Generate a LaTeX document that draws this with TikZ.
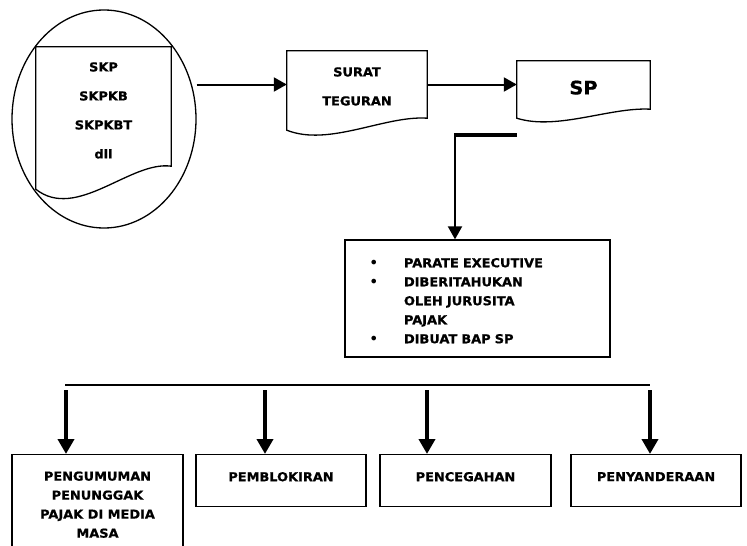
\documentclass[tikz,border=0pt]{standalone}
\usepackage{fontspec}
\setmainfont{DejaVu Sans}
\newfontfamily\heavyfont{DejaVu Sans Bold}[FakeStretch=1.05,FakeBold=0.8]
\usetikzlibrary{arrows.meta,calc,positioning,shapes.geometric}
\tikzset{
  outline/.style={draw=black,line width=1.3pt},
  flow/.style={-{Triangle[length=13pt,width=14pt]},line width=2pt},
  heavyflow/.style={-{Triangle[length=15pt,width=16pt]},line width=4.5pt},
  doc/.style={inner sep=0pt,align=center,font=\heavyfont\fontsize{12.3}{29}\selectfont},
  box/.style={outline,inner sep=2pt,align=center,font=\heavyfont\fontsize{12.3}{19}\selectfont},
  shortbox/.style={box,minimum width=170pt,minimum height=52pt,text depth=8pt,anchor=north},
}
% document symbol with a wavy lower edge
\newcommand{\docoutline}[2]{%
  \draw[outline] (#1.north west) -- (#1.north east) -- (#1.south east)
    .. controls ($(#1.south east)!0.3!(#1.south west)+(0,-#2/4)$)
       and ($(#1.south east)!0.7!(#1.south west)+(0,2.4*#2)$)
    .. ($(#1.south west)+(0,#2)$) -- cycle;}
\newcommand{\infobullet}{\makebox[35pt][l]{\raisebox{-1.5pt}{\normalfont\fontsize{16}{16}\selectfont\textbullet}}}

\begin{document}
\begin{tikzpicture}[x=1pt,y=-1pt]
  \useasboundingbox (0,0) rectangle (747,546);

  % top row
  \node[ellipse,outline,minimum width=184pt,minimum height=218pt,inner sep=0pt] (ell) at (104,119) {};
  \node[doc,minimum width=135pt,minimum height=119pt] (skp) at (103.5,106.5)
    {\rule{0pt}{17pt}SKP\\SKPKB\\SKPKBT\\dll};
  \docoutline{skp}{23}
  \node[doc,minimum width=140pt,minimum height=67pt] (teguran) at (357,84.5)
    {\rule{0pt}{13pt}SURAT\\TEGURAN};
  \docoutline{teguran}{12}
  \node[doc,minimum width=133pt,minimum height=48pt,text height=19pt,
        font=\heavyfont\fontsize{18.5}{22}\selectfont] (sp) at (583.5,85) {SP};
  \docoutline{sp}{9}

  \draw[flow] (ell.east |- teguran.west) -- (teguran.west);
  \draw[flow] (teguran.east) -- (teguran.east -| sp.west);

  % SP to the notice box
  \node[box,text width=217pt,inner xsep=24pt,minimum height=117pt,text height=15pt,align=left] (info) at (477.5,298.5)
    {\infobullet PARATE EXECUTIVE\\
     \infobullet DIBERITAHUKAN\\
     \hspace*{35pt}OLEH JURUSITA\\
     \hspace*{35pt}PAJAK\\
     \infobullet DIBUAT BAP SP};
  \coordinate (bend) at (455,135);
  \draw[line width=4.5pt] (bend -| sp.west) -- ([xshift=-1.25pt]bend);
  \draw[flow] (bend) -- (bend |- info.north);

  % follow-up actions
  \node[box,minimum width=171pt,minimum height=100pt,anchor=north] (umum) at (97.5,454)
    {PENGUMUMAN\\PENUNGGAK\\PAJAK DI MEDIA\\MASA};
  \node[shortbox] (blokir) at (281,454) {PEMBLOKIRAN};
  \node[shortbox,minimum width=171pt] (cegah) at (465.5,454) {PENCEGAHAN};
  \node[shortbox] (sandera) at (656,454) {PENYANDERAAN};

  \coordinate (bar west) at (65,385);
  \coordinate (bar east) at (650,385);
  \draw[line width=1.5pt] (bar west) -- (bar east);

  \coordinate (drop1) at (66,390);
  \coordinate (drop2) at (265,390);
  \coordinate (drop3) at (427,390);
  \coordinate (drop4) at (650,390);
  \draw[heavyflow] (drop1) -- (drop1 |- umum.north);
  \draw[heavyflow] (drop2) -- (drop2 |- blokir.north);
  \draw[heavyflow] (drop3) -- (drop3 |- cegah.north);
  \draw[heavyflow] (drop4) -- (drop4 |- sandera.north);
\end{tikzpicture}
\end{document}
